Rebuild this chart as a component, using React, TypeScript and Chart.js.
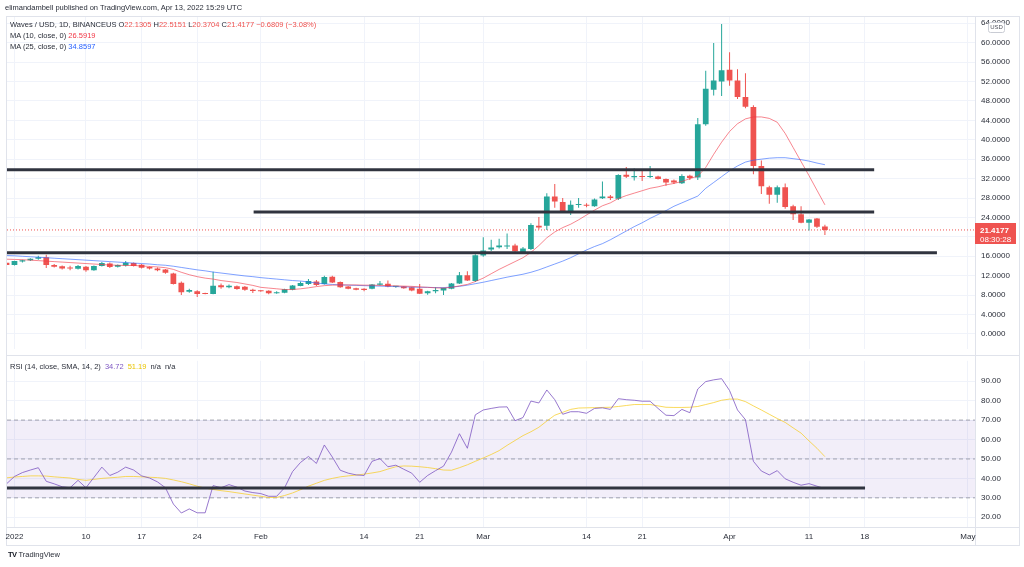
import React, { useEffect, useRef } from 'react';
import { Chart, registerables } from 'chart.js';

Chart.register(...registerables);

// ---------- data ----------
// day index: 0 = 2022-01-01; first candle is 2021-12-31
const FIRST_DAY = -1;

const OPEN = [
  14.66, 14.2, 14.9, 15.2, 15.5, 15.8, 14.2, 13.95, 13.65, 13.45,
  13.85, 13.1, 14.0, 14.5, 13.85, 14.1, 14.6, 14.25, 13.8, 13.5,
  13.25, 12.45, 10.55, 8.7, 8.8, 8.35, 8.25, 10.05, 9.6, 9.8,
  9.7, 9.1, 8.9, 8.9, 8.4, 8.5, 9.1, 9.9, 10.3, 10.8,
  10.3, 11.8, 10.7, 9.75, 9.4, 9.3, 9.3, 10.15, 10.35, 9.7,
  9.75, 9.6, 9.3, 8.4, 8.8, 8.95, 9.3, 10.4, 12.1, 10.9,
  16.15, 17.4, 17.85, 18.0, 18.2, 16.85, 17.5, 22.3, 22.3, 28.3,
  27.2, 25.1, 26.55, 26.6, 26.3, 27.95, 28.3, 27.85, 32.8, 32.3,
  32.5, 32.35, 32.45, 31.9, 31.6, 31.05, 32.6, 32.2, 43.2, 50.3,
  52.0, 54.4, 52.2, 48.8, 46.75, 34.6, 30.2, 28.65, 30.2, 26.3,
  24.67, 22.9, 23.78, 22.1305,
];
const HIGH = [
  14.9, 15.1, 15.3, 15.6, 16.1, 16.3, 14.4, 14.1, 14.05, 14.2,
  14.0, 14.1, 14.8, 14.7, 14.3, 15.0, 14.7, 14.4, 13.9, 13.7,
  13.4, 12.6, 10.8, 9.3, 9.0, 8.5, 12.8, 10.4, 10.2, 10.0,
  9.9, 9.3, 9.0, 9.0, 8.8, 9.3, 10.1, 10.8, 11.3, 11.1,
  12.0, 12.0, 10.8, 9.9, 9.5, 9.4, 10.3, 10.9, 11.0, 9.9,
  9.85, 9.7, 10.3, 8.9, 9.6, 9.5, 10.5, 12.75, 12.9, 16.4,
  19.9, 19.4, 19.6, 20.7, 18.6, 17.9, 22.8, 24.1, 29.0, 30.9,
  28.0, 27.5, 28.0, 26.9, 27.9, 31.4, 28.6, 32.9, 34.4, 34.1,
  33.9, 34.6, 32.6, 32.0, 31.8, 32.9, 32.8, 44.5, 54.2, 59.9,
  63.85, 58.0, 54.5, 53.7, 47.1, 35.7, 30.5, 30.6, 31.0, 26.6,
  26.3, 23.7, 23.9, 22.5151,
];
const LOW = [
  14.1, 14.1, 14.7, 15.0, 15.3, 13.6, 13.7, 13.3, 13.1, 13.3,
  12.8, 13.0, 13.9, 13.6, 13.7, 13.9, 13.9, 13.5, 13.3, 12.9,
  12.4, 10.2, 8.0, 8.5, 7.6, 8.2, 8.2, 9.3, 9.4, 9.1,
  8.9, 8.45, 8.7, 8.2, 8.3, 8.4, 9.0, 9.8, 10.1, 9.9,
  10.2, 10.5, 9.5, 9.2, 9.0, 8.8, 9.2, 10.0, 9.6, 9.5,
  9.3, 8.8, 8.25, 8.1, 8.4, 8.0, 9.2, 10.3, 10.9, 10.7,
  15.9, 17.1, 17.6, 17.5, 16.9, 16.7, 17.3, 21.5, 21.4, 26.0,
  25.1, 24.5, 26.0, 26.1, 26.2, 27.8, 27.6, 27.6, 32.1, 31.6,
  31.5, 32.1, 31.8, 30.5, 30.9, 30.9, 31.7, 31.7, 42.9, 49.1,
  49.0, 51.1, 48.4, 46.5, 32.9, 28.85, 26.8, 27.0, 25.8, 23.45,
  22.8, 21.3, 21.8, 20.3704,
];
const CLOSE = [
  14.2, 15.0, 15.2, 15.5, 15.8, 14.2, 13.85, 13.5, 13.5, 14.0,
  13.1, 14.0, 14.6, 13.8, 14.2, 14.65, 14.0, 13.65, 13.5, 13.1,
  12.6, 10.3, 8.6, 9.05, 8.25, 8.25, 9.95, 9.6, 9.95, 9.25,
  9.1, 8.85, 8.8, 8.4, 8.6, 9.2, 10.0, 10.5, 10.9, 10.1,
  11.75, 10.6, 9.6, 9.3, 9.1, 9.05, 10.2, 10.4, 9.75, 9.8,
  9.4, 8.95, 8.3, 8.8, 9.05, 9.45, 10.4, 12.1, 11.0, 16.2,
  17.2, 17.8, 18.2, 18.15, 17.05, 17.6, 22.45, 21.95, 28.3, 27.3,
  25.3, 26.6, 26.65, 26.4, 27.7, 28.3, 28.0, 32.75, 32.4, 32.55,
  32.35, 32.5, 31.9, 31.2, 31.2, 32.55, 32.1, 43.2, 50.5, 52.2,
  54.3, 52.2, 48.8, 46.8, 34.6, 30.4, 28.65, 30.2, 26.15, 24.67,
  22.9, 23.58, 22.0986, 21.4177,
];
const MA10 = [
  15.4, 15.35, 15.3, 15.2, 15.1, 15.0, 14.9, 14.8, 14.7, 14.6,
  14.5, 14.4, 14.3, 14.2, 14.15, 14.1, 14.1, 14.0, 13.9, 13.8,
  13.65, 13.3, 12.7, 12.2, 11.8, 11.5, 11.3, 11.0, 10.8, 10.6,
  10.3, 10.0, 9.6, 9.45, 9.3, 9.15, 9.15, 9.3, 9.5, 9.75,
  9.95, 10.05, 10.1, 10.1, 10.1, 10.05, 10.05, 10.0, 9.95, 9.9,
  9.85, 9.8, 9.7, 9.6, 9.5, 9.45, 9.6, 9.9, 10.2, 10.8,
  11.5, 12.4, 13.3, 14.1, 14.9, 15.7, 16.8, 18.2, 19.8, 21.0,
  21.9, 22.6, 23.5, 24.5, 25.5, 26.4, 27.0, 27.9, 28.5, 29.0,
  29.5, 30.0, 30.3, 30.7, 31.0, 31.4, 32.0, 32.5, 34.3, 37.0,
  39.5, 41.7, 43.3, 44.3, 44.7, 44.7, 44.4, 43.6, 41.3, 38.4,
  35.5, 32.6, 29.6, 26.5919,
];
const MA25 = [
  16.15, 16.1, 16.0, 15.9, 15.8, 15.7, 15.6, 15.5, 15.4, 15.3,
  15.2, 15.1, 15.0, 14.9, 14.8, 14.7, 14.6, 14.5, 14.4, 14.25,
  14.15, 13.95, 13.7, 13.45, 13.2, 13.0, 12.75, 12.55, 12.35, 12.15,
  11.95, 11.8, 11.6, 11.45, 11.3, 11.15, 11.0, 10.9, 10.7, 10.5,
  10.3, 10.2, 10.1, 10.05, 10.0, 9.95, 9.9, 9.85, 9.8, 9.75,
  9.7, 9.65, 9.6, 9.6, 9.55, 9.55, 9.65, 9.8, 10.05, 10.35,
  10.65, 11.0, 11.35, 11.7, 12.0, 12.3, 12.7, 13.2, 13.8, 14.4,
  15.0, 15.7, 16.5, 17.3, 18.0, 18.6, 19.4, 20.3, 21.2, 22.1,
  22.9, 23.8, 24.6, 25.4, 26.3, 27.0, 27.7, 28.4, 30.0, 31.2,
  32.4, 33.6, 34.6, 35.4, 35.8, 36.0, 36.2, 36.3, 36.3, 36.1,
  35.9, 35.6, 35.2, 34.8597,
];
const RSI = [
  37.2, 41, 43, 44.3, 45.5, 38.5, 37.2, 35.7, 35.2, 39,
  35.2, 40.5, 45.8, 41.5, 43.2, 45.8, 44.3, 41.3, 40.2, 38.2,
  35.2, 26.8, 22.2, 24.3, 22.3, 22.3, 36.3, 35.2, 36.8, 35.5,
  33.5, 32.7, 32.2, 30.8, 30.8, 35.2, 43.5, 48.2, 51.3, 47.7,
  57.2, 51, 44.2, 42.7, 41.8, 41.5, 48.8, 50.2, 46, 46.8,
  44.7, 42.7, 38, 41.5, 44, 46.3, 53.5, 63, 55.5, 72.7,
  75.2, 76, 76.7, 76.8, 69.7, 71.3, 79.8, 78.8, 85.5, 80.5,
  73, 74.3, 74.3, 73.5, 76, 76.3, 75.5, 81, 80.5, 80.2,
  79.7, 79.7, 76, 72.5, 72.3, 75.5, 73.8, 86, 89.8, 90.7,
  91.3, 85.2, 75.2, 70.2, 48.8, 43.8, 41.8, 44, 39.8, 38,
  36.5, 37.3, 36, 34.72,
];
const RSI_MA = [
  40.3, 40.7, 41, 41.3, 41.3, 41.2, 40.8, 40.5, 40.2, 39.5,
  39, 39.5, 40, 40.3, 40.6, 41, 41, 40.8, 40.6, 40.4,
  40, 39.2, 38.3, 37.2, 36, 35, 34.3, 33.7, 33.2, 32.6,
  32, 31.4, 30.8, 30.2, 30.2, 31.2, 32.5, 34.2, 36, 37.5,
  39, 40, 40.8, 41.3, 41.7, 42.2, 42.8, 43.5, 44.8, 46,
  46.4, 46.3, 46, 45.6, 45, 44.3, 44.2, 45.5, 47, 48.8,
  50.5, 52.3, 54.3, 57, 59.5, 62, 64, 66.3, 69.5, 72.5,
  74, 75.5, 76.2, 76.3, 76.4, 76.5, 76.6, 77, 77.5, 78,
  78, 78, 77.3, 76.6, 76.5, 76.5, 76.6, 77, 78, 79,
  80.2, 80.8, 80.8, 79.5, 77.3, 75.2, 73, 70.8, 68.8, 66,
  63.3, 59.3, 55.5, 51.19,
];

// drawn horizontal levels (price) and their day extents
const LEVEL_PRICES = [33.8, 25.1, 16.7];
const LEVEL_FROM = [-0.94, 30.1, -0.94];
const LEVEL_TO = [108.2, 108.2, 116.1];
const RSI_LEVEL = 35;
const RSI_LEVEL_TO = 107.05;
const RSI_BANDS = [70, 50, 30];

const PRICE_TICKS = [0, 4, 8, 12, 16, 20, 24, 28, 32, 36, 40, 44, 48, 52, 56, 60, 64];
const RSI_TICKS = [20, 30, 40, 50, 60, 70, 80, 90];
const X_TICK_DAYS = [0, 9, 16, 23, 31, 44, 51, 59, 72, 79, 90, 100, 107, 120];
const X_TICK_LABELS = ['2022', '10', '17', '24', 'Feb', '14', '21', 'Mar', '14', '21', 'Apr', '11', '18', 'May'];

const LAST_PRICE = 21.4177;
const COUNTDOWN = '08:30:28';
const CHANGE_TEXT = '\u22120.6809 (\u22123.08%)';

// ---------- style ----------
const X_MIN = -0.94;
const X_MAX = 120.89;
const GREEN = '#26a69a';
const RED = '#ef5350';
const GRID = '#f0f3fa';
const FRAME = '#e0e3eb';
const TEXT = '#2a2e39';
const FONT = '"Liberation Sans", Arial, sans-serif';

const days = OPEN.map((_, i) => FIRST_DAY + i);
const candleColors = OPEN.map((o, i) => (CLOSE[i] >= o ? GREEN : RED));
const series = (arr: number[]) => arr.map((v, i) => ({ x: days[i], y: v }));

const lineDs = (data: any[], color: string, width: number, order: number, extra: any = {}) => ({
  type: 'line',
  data,
  borderColor: color,
  borderWidth: width,
  pointRadius: 0,
  pointHoverRadius: 0,
  tension: 0,
  fill: false,
  order,
  ...extra,
});

const overlayPlugin = {
  id: 'priceOverlay',
  afterDraw(chart: any) {
    const { ctx, scales, chartArea } = chart;
    const y = scales.y.getPixelForValue(LAST_PRICE);
    const x = chartArea.right;
    ctx.save();
    ctx.fillStyle = RED;
    ctx.fillRect(x, Math.round(y) - 7, 41, 21);
    ctx.fillStyle = '#ffffff';
    ctx.textBaseline = 'middle';
    ctx.textAlign = 'left';
    ctx.font = `bold 8px ${FONT}`;
    ctx.fillText(LAST_PRICE.toFixed(4), x + 5, Math.round(y) + 0.5);
    ctx.font = `8px ${FONT}`;
    ctx.fillText(COUNTDOWN, x + 5, Math.round(y) + 9.5);
    // currency badge
    const bx = x + 13.5, by = chartArea.top + 5.5;
    ctx.beginPath();
    ctx.roundRect(bx, by, 16, 10, 2);
    ctx.fillStyle = '#ffffff';
    ctx.fill();
    ctx.strokeStyle = '#c9ccd4';
    ctx.lineWidth = 1;
    ctx.stroke();
    ctx.fillStyle = '#50535e';
    ctx.font = `6px ${FONT}`;
    ctx.textAlign = 'center';
    ctx.fillText('USD', bx + 8, by + 5.2);
    ctx.restore();
  },
};

function mainConfig(): any {
  const datasets: any[] = [];
  LEVEL_PRICES.forEach((p, i) => {
    datasets.push(lineDs([{ x: LEVEL_FROM[i], y: p }, { x: LEVEL_TO[i], y: p }], '#30343f', 3, -2));
  });
  datasets.push(lineDs([{ x: X_MIN, y: LAST_PRICE }, { x: X_MAX, y: LAST_PRICE }], RED, 1, 3, { borderDash: [1, 2] }));
  datasets.push(lineDs(series(MA10), 'rgba(242,54,69,0.6)', 1, -1));
  datasets.push(lineDs(series(MA25), 'rgba(41,98,255,0.6)', 1, -1));
  datasets.push({
    type: 'bar',
    data: days.map((d, i) => ({ x: d, y: [LOW[i], HIGH[i]] })),
    backgroundColor: candleColors,
    maxBarThickness: 1,
    grouped: false,
    borderWidth: 0,
    borderSkipped: false,
    inflateAmount: 0,
    minBarLength: 1,
    order: 2,
  });
  datasets.push({
    type: 'bar',
    data: days.map((d, i) => ({ x: d, y: [OPEN[i], CLOSE[i]] })),
    backgroundColor: candleColors,
    maxBarThickness: 6,
    grouped: false,
    borderWidth: 0,
    borderSkipped: false,
    inflateAmount: 0,
    minBarLength: 1,
    order: 1,
  });
  return {
    type: 'bar',
    data: { datasets },
    plugins: [overlayPlugin],
    options: {
      responsive: false,
      animation: false,
      events: [],
      layout: { padding: { left: 7, top: 17, right: 0, bottom: 5 } },
      plugins: { legend: { display: false }, tooltip: { enabled: false } },
      scales: {
        x: {
          type: 'linear',
          min: X_MIN,
          max: X_MAX,
          offset: false,
          grid: { color: GRID, offset: false, drawTicks: false },
          border: { display: false },
          ticks: { display: false },
          afterBuildTicks: (s: any) => { s.ticks = X_TICK_DAYS.map((v) => ({ value: v })); },
          afterFit: (s: any) => { s.height = 0; },
        },
        y: {
          type: 'linear',
          position: 'right',
          min: -3.14,
          max: 65.28,
          grid: { color: GRID, drawTicks: false },
          border: { display: false },
          ticks: {
            padding: 6,
            autoSkip: false,
            color: TEXT,
            font: { size: 8, family: FONT },
            callback: (v: any) => Number(v).toFixed(4),
          },
          afterBuildTicks: (s: any) => { s.ticks = PRICE_TICKS.map((v) => ({ value: v })); },
          afterFit: (s: any) => { s.width = 49; },
        },
      },
    },
  };
}

function rsiConfig(): any {
  const datasets: any[] = [];
  RSI_BANDS.forEach((v, i) => {
    datasets.push(lineDs([{ x: X_MIN, y: v }, { x: X_MAX, y: v }], 'rgba(120,123,134,0.65)', 1, 5, {
      borderDash: [4, 3],
      fill: i === 0 ? 2 : false,
      backgroundColor: 'rgba(126,87,194,0.1)',
    }));
  });
  datasets.push(lineDs([{ x: X_MIN, y: RSI_LEVEL }, { x: RSI_LEVEL_TO, y: RSI_LEVEL }], '#30343f', 3, -2));
  datasets.push(lineDs(series(RSI_MA), 'rgba(247,205,40,0.75)', 1, 1));
  datasets.push(lineDs(series(RSI), 'rgba(126,87,194,0.8)', 1, 0));
  return {
    type: 'line',
    data: { datasets },
    options: {
      responsive: false,
      animation: false,
      events: [],
      layout: { padding: { left: 7, top: 6, right: 0, bottom: 22 } },
      plugins: { legend: { display: false }, tooltip: { enabled: false }, filler: { drawTime: 'beforeDatasetsDraw' } },
      scales: {
        x: {
          type: 'linear',
          min: X_MIN,
          max: X_MAX,
          offset: false,
          grid: { color: GRID, offset: false, drawTicks: false },
          border: { display: false },
          ticks: {
            padding: 5,
            autoSkip: false,
            maxRotation: 0,
            color: TEXT,
            font: { size: 8, family: FONT },
            callback: (_v: any, i: number) => X_TICK_LABELS[i],
          },
          afterBuildTicks: (s: any) => { s.ticks = X_TICK_DAYS.map((v) => ({ value: v })); },
          afterFit: (s: any) => { s.height = 18; },
        },
        y: {
          type: 'linear',
          position: 'right',
          min: 15,
          max: 100.5,
          grid: { color: GRID, drawTicks: false },
          border: { display: false },
          ticks: {
            padding: 6,
            autoSkip: false,
            color: TEXT,
            font: { size: 8, family: FONT },
            callback: (v: any) => Number(v).toFixed(2),
          },
          afterBuildTicks: (s: any) => { s.ticks = RSI_TICKS.map((v) => ({ value: v })); },
          afterFit: (s: any) => { s.width = 49; },
        },
      },
    },
  };
}

const abs = (style: any) => ({ position: 'absolute' as const, ...style });
const textRow = (top: number, left: number) =>
  abs({ top, left, fontSize: 7.5, lineHeight: '10px', whiteSpace: 'nowrap', color: TEXT, fontFamily: FONT });
const gap = { marginLeft: 4 };

export default function App() {
  const mainRef = useRef<HTMLCanvasElement>(null);
  const rsiRef = useRef<HTMLCanvasElement>(null);

  useEffect(() => {
    const c1 = new Chart(mainRef.current as HTMLCanvasElement, mainConfig());
    const c2 = new Chart(rsiRef.current as HTMLCanvasElement, rsiConfig());
    return () => {
      c1.destroy();
      c2.destroy();
    };
  }, []);

  const last = OPEN.length - 1;
  const red = { color: RED };

  return (
    <div style={abs({ left: 0, top: 0, width: 1024, height: 567, background: '#ffffff', overflow: 'hidden' })}>
      {/* frame */}
      <div style={abs({ left: 6, top: 16, width: 1014, height: 530, border: `1px solid ${FRAME}`, boxSizing: 'border-box' })} />
      <div style={abs({ left: 6, top: 355, width: 1014, height: 1, background: FRAME })} />
      <div style={abs({ left: 6, top: 527, width: 1014, height: 1, background: FRAME })} />
      <div style={abs({ left: 975, top: 16, width: 1, height: 530, background: FRAME })} />

      <canvas ref={mainRef} width={1024} height={360} style={abs({ left: 0, top: 0 })} />
      <canvas ref={rsiRef} width={1024} height={217} style={abs({ left: 0, top: 350 })} />

      <div style={textRow(3, 5)}>elimandambell published on TradingView.com, Apr 13, 2022 15:29 UTC</div>
      <div style={textRow(20, 10)}>
        {'Waves / USD, 1D, BINANCEUS O'}
        <span style={red}>{OPEN[last].toFixed(4)}</span>
        {' H'}
        <span style={red}>{HIGH[last].toFixed(4)}</span>
        {' L'}
        <span style={red}>{LOW[last].toFixed(4)}</span>
        {' C'}
        <span style={red}>{CLOSE[last].toFixed(4)}</span>{' '}
        <span style={red}>{CHANGE_TEXT}</span>
      </div>
      <div style={textRow(31, 10)}>
        {'MA (10, close, 0) '}<span style={{ color: '#f23645' }}>{MA10[last].toFixed(4)}</span>
      </div>
      <div style={textRow(41.5, 10)}>
        {'MA (25, close, 0) '}<span style={{ color: '#2962ff' }}>{MA25[last].toFixed(4)}</span>
      </div>
      <div style={textRow(362, 10)}>
        {'RSI (14, close, SMA, 14, 2)'}
        <span style={{ ...gap, color: '#7e57c2' }}>{RSI[last].toFixed(2)}</span>
        <span style={{ ...gap, color: '#e9c400' }}>{RSI_MA[last].toFixed(2)}</span>
        <span style={gap}>n/a</span>
        <span style={gap}>n/a</span>
      </div>
      <div style={textRow(550, 8)}>
        <span style={{ fontWeight: 'bold', color: '#131722', letterSpacing: -0.5 }}>TV</span>{' TradingView'}
      </div>
    </div>
  );
}
